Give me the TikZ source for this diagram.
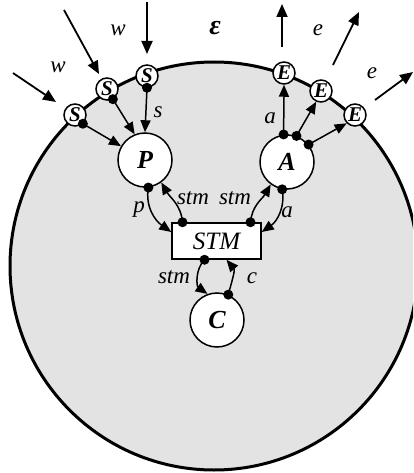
\documentclass[tikz,border=0pt]{standalone}
\usepackage{fontspec}
\setmainfont{Liberation Serif}
\usetikzlibrary{arrows.meta}
\begin{document}
\begin{tikzpicture}[x=1pt,y=1pt,
  bigc/.style={circle,draw,line width=1.5pt,fill=white,minimum size=54pt,inner sep=0pt,font=\fontsize{26}{28}\selectfont\bfseries\itshape},
  smallc/.style={circle,draw,line width=1.5pt,fill=white,minimum size=22pt,inner sep=0pt,font=\fontsize{21}{22}\selectfont\bfseries\itshape},
  stmbox/.style={rectangle,draw,line width=1.5pt,fill=white,minimum width=89pt,minimum height=36pt,inner sep=0pt,font=\fontsize{25}{27}\selectfont\itshape},
  conn/.style={line width=1.5pt,-{Triangle[length=12pt,width=10pt]}},
  ext/.style={line width=1.8pt,-{Triangle[length=13pt,width=11pt]}},
  lbl/.style={font=\fontsize{23}{25}\selectfont\itshape,inner sep=0pt},
  dotc/.style={fill=black}
]
\useasboundingbox (0,0) rectangle (413,-473);
\begin{scope}
\clip (0,0) rectangle (413,-473);
\draw[line width=3pt,fill=black!11] (214,-266) circle (204pt);
\end{scope}

% nodes
\node[bigc] (P) at (145,-160) {P};
\node[bigc] (A) at (287,-162) {A};
\node[bigc] (C) at (217,-320) {C};
\node[stmbox] (STM) at (216.5,-241) {STM};
\node[smallc] (S1) at (75,-115) {S};
\node[smallc] (S2) at (107,-89) {S};
\node[smallc] (S3) at (147,-76) {S};
\node[smallc] (E1) at (284,-73) {E};
\node[smallc] (E2) at (321,-91) {E};
\node[smallc] (E3) at (355,-115) {E};

% external arrows
\coordinate (w1a) at (13,-73);   \coordinate (w1b) at (56,-102);
\coordinate (w2a) at (64,-10);   \coordinate (w2b) at (99,-74);
\coordinate (w3a) at (147,-2);   \coordinate (w3b) at (147,-54);
\coordinate (e1a) at (282,-47);  \coordinate (e1b) at (282,-4);
\coordinate (e2a) at (333,-65);  \coordinate (e2b) at (359,-12);
\coordinate (e3a) at (375,-100); \coordinate (e3b) at (413,-72);
\draw[ext] (w1a) -- (w1b);
\draw[ext] (w2a) -- (w2b);
\draw[ext] (w3a) -- (w3b);
\draw[ext] (e1a) -- (e1b);
\draw[ext] (e2a) -- (e2b);
\draw[ext] (e3a) -- (e3b);

% S -> P
\draw[conn] (S1.-48) -- (P.150);
\draw[conn] (S2.-60) -- (P.112);
\draw[conn] (S3.south) -- (P.north);
\foreach \p in {S1.-48,S2.-60,S3.south} \fill[dotc] (\p) circle (5pt);

% A -> E
\draw[conn] (A.97) -- (E1.south);
\draw[conn] (A.70) -- (E2.-114);
\draw[conn] (A.39) -- (E3.-135);
\foreach \p in {A.97,A.70,A.39} \fill[dotc] (\p) circle (5pt);

% P, A <-> STM
\draw[conn] (P.-83) to[out=-100,in=145] ([yshift=9pt]STM.west);
\draw[conn] ([xshift=-34pt]STM.north) to[out=95,in=-60] (P.-54);
\draw[conn] ([xshift=34pt]STM.north) to[out=85,in=-120] (A.-126);
\draw[conn] (A.-100) to[out=-80,in=35] ([yshift=9pt]STM.east);
\foreach \p in {P.-83,A.-100} \fill[dotc] (\p) circle (5pt);
\fill[dotc] ([xshift=-34pt]STM.north) circle (5pt);
\fill[dotc] ([xshift=34pt]STM.north) circle (5pt);

% STM <-> C
\draw[conn] ([xshift=-12pt]STM.south) to[out=-135,in=145] (C.110);
\draw[conn] (C.66) to[out=75,in=-50] ([xshift=10pt]STM.south);
\fill[dotc] ([xshift=-12pt]STM.south) circle (5pt);
\fill[dotc] (C.66) circle (5pt);

% labels
\node[lbl] (lw1) at (118,-30) {w};
\node[lbl] (lw2) at (58,-67) {w};
\node[lbl] (ls) at (158,-112) {s};
\node[lbl,font=\fontsize{28}{30}\selectfont\bfseries\itshape] (leps) at (215,-28) {ε};
\node[lbl] (le1) at (318,-30) {e};
\node[lbl] (le2) at (372,-73) {e};
\node[lbl] (la1) at (270,-118) {a};
\node[lbl] (lp) at (139,-210) {p};
\node[lbl] (la2) at (287,-212) {a};
\node[lbl] (lstm1) at (193,-198) {stm};
\node[lbl] (lstm2) at (235,-198) {stm};
\node[lbl] (lstm3) at (174,-277) {stm};
\node[lbl] (lc) at (252,-278) {c};
\end{tikzpicture}
\end{document}
